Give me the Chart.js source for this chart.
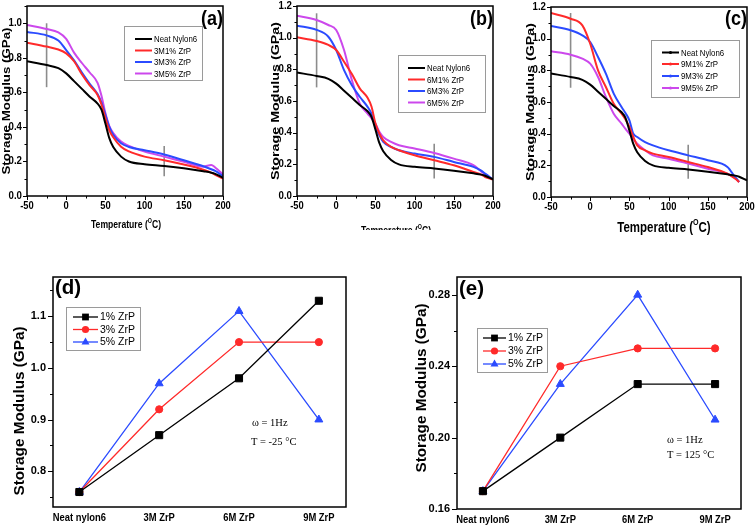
<!DOCTYPE html>
<html><head><meta charset="utf-8">
<script src="https://cdn.jsdelivr.net/npm/chart.js@4/dist/chart.umd.min.js"></script>
<style>
html,body{margin:0;padding:0;background:#fff;}
#wrap{position:relative;width:756px;height:529px;overflow:hidden;background:#fff;}
canvas{position:absolute;left:0;top:0;}
</style></head><body><div id="wrap">
<canvas id="pa" width="756" height="529"></canvas>
<canvas id="pb" width="756" height="529"></canvas>
<canvas id="pc" width="756" height="529"></canvas>
<canvas id="pd" width="756" height="529"></canvas>
<canvas id="pe" width="756" height="529"></canvas>
</div>
<script>
// ---------------- DATA ----------------
const temps = [-50,-25,-10,0,10,20,30,40,45,50,55,60,70,80,100,125,150,175,185,190,200];
const neatNylon6 = [0.78,0.758,0.74,0.71,0.665,0.62,0.575,0.535,0.50,0.42,0.335,0.283,0.228,0.20,0.184,0.174,0.16,0.143,0.135,0.128,0.105];
// panel (a)
const namesA = ['Neat Nylon6','3M1% ZrP','3M3% ZrP','3M5% ZrP'];
const a3M1 = [0.888,0.865,0.848,0.826,0.78,0.705,0.64,0.585,0.53,0.45,0.38,0.34,0.285,0.258,0.228,0.207,0.182,0.152,0.135,0.123,0.10];
const a3M3 = [0.95,0.93,0.90,0.845,0.785,0.715,0.65,0.59,0.54,0.47,0.40,0.355,0.305,0.284,0.265,0.24,0.207,0.172,0.155,0.145,0.115];
const a3M5 = [0.99,0.967,0.948,0.91,0.83,0.77,0.715,0.655,0.58,0.48,0.405,0.365,0.315,0.29,0.257,0.228,0.198,0.17,0.18,0.165,0.125];
// panel (b)
const namesB = ['Neat Nylon6','6M1% ZrP','6M3% ZrP','6M5% ZrP'];
const b6M1 = [1.002,0.979,0.954,0.922,0.848,0.77,0.68,0.62,0.565,0.46,0.395,0.352,0.31,0.289,0.257,0.226,0.194,0.152,0.135,0.12,0.105];
const b6M3 = [1.076,1.049,1.006,0.922,0.795,0.70,0.627,0.563,0.52,0.437,0.384,0.342,0.31,0.289,0.268,0.247,0.215,0.184,0.16,0.141,0.105];
const b6M5 = [1.139,1.112,1.08,1.049,0.922,0.732,0.584,0.521,0.49,0.458,0.405,0.373,0.342,0.321,0.30,0.272,0.236,0.195,0.155,0.135,0.105];
// panel (c)
const namesC = ['Neat Nylon6','9M1% ZrP','9M3% ZrP','9M5% ZrP'];
const c9M1 = [1.162,1.126,1.084,0.968,0.80,0.695,0.589,0.526,0.49,0.442,0.379,0.326,0.295,0.274,0.253,0.221,0.189,0.147,0.115,0.095,null];
const c9M3 = [1.08,1.053,1.021,0.979,0.884,0.779,0.653,0.568,0.53,0.484,0.40,0.379,0.347,0.326,0.295,0.263,0.232,0.19,0.125,0.095,null];
const c9M5 = [0.92,0.899,0.874,0.842,0.758,0.632,0.526,0.463,0.43,0.40,0.365,0.337,0.295,0.263,0.242,0.211,0.179,0.147,0.12,0.095,null];
// reference temperatures (grey markers) and their vertical extents
const refTemps = [-25, 125];
const refA = [[0.63,1.0],[0.115,0.29]];
const refB = [[0.686,1.154],[0.11,0.33]];
const refC = [[0.69,1.162],[0.116,0.33]];
// panels (d) and (e)
const groups = ['Neat nylon6','3M ZrP','6M ZrP','9M ZrP'];
const zrpNames = ['1% ZrP','3% ZrP','5% ZrP'];
const d1 = [0.76,0.87,0.98,1.13];
const d3 = [0.76,0.92,1.05,1.05];
const d5 = [0.76,0.97,1.11,0.90];
const e1 = [0.17,0.20,0.23,0.23];
const e3 = [0.17,0.24,0.25,0.25];
const e5 = [0.17,0.23,0.28,0.21];
const tempTicks = [-50,-25,0,25,50,75,100,125,150,175,200];

// ---------------- STYLE ----------------
const SANS = "'Liberation Sans', Arial, sans-serif";
const SERIF = "'Liberation Serif', 'Times New Roman', serif";
const BLACK = '#000000', RED = '#ff2a2a', BLUE = '#2b4bff', PURPLE = '#cc48ec', GREY = '#8c8c8c';
const topColors = [BLACK, RED, BLUE, PURPLE];

// draw text horizontally squeezed by factor k
function txt(ctx, s, x, y, k) {
  ctx.save(); ctx.translate(x, y); ctx.scale(k, 1); ctx.fillText(s, 0, 0); ctx.restore();
}

const deco = {
  id: 'deco',
  afterDraw(chart, _args, o) {
    const ctx = chart.ctx, A = chart.chartArea, xs = chart.scales.x, ys = chart.scales.y;
    const k = o.k;
    ctx.save();
    ctx.strokeStyle = '#000'; ctx.fillStyle = '#000';
    // tick marks
    ctx.lineWidth = o.tickW;
    ctx.beginPath();
    if (o.xTicks) for (const t of xs.ticks) {
      const p = Math.round(xs.getPixelForValue(t.value)) + 0.5;
      const L = o.xLabel(t.value) ? o.majorLen : o.minorLen;
      ctx.moveTo(p, A.bottom); ctx.lineTo(p, A.bottom + L);
    }
    for (const t of ys.ticks) {
      const p = Math.round(ys.getPixelForValue(t.value)) + 0.5;
      const L = o.yLabel(t.value) ? o.majorLen : o.minorLen;
      ctx.moveTo(A.left, p); ctx.lineTo(A.left - L, p);
    }
    ctx.stroke();
    // frame
    ctx.lineWidth = o.frameW;
    ctx.strokeRect(A.left, A.top, A.right - A.left, A.bottom - A.top);

    // tick labels
    ctx.font = 'bold ' + o.xTickSize + 'px ' + SANS;
    ctx.textAlign = 'center'; ctx.textBaseline = 'top';
    for (const t of xs.ticks) { const s = o.xLabel(t.value); if (s) txt(ctx, s, xs.getPixelForValue(t.value), A.bottom + o.xPad, o.xk); }
    ctx.font = 'bold ' + o.yTickSize + 'px ' + SANS;
    ctx.textAlign = 'right'; ctx.textBaseline = 'middle';
    for (const t of ys.ticks) { const s = o.yLabel(t.value); if (s) txt(ctx, s, A.left - o.yPad, ys.getPixelForValue(t.value), o.yk); }

    // y title
    if (o.yTitle) {
      ctx.save();
      ctx.translate(o.yTitle.x, o.yTitle.y);
      ctx.scale(k, 1);
      ctx.rotate(-Math.PI / 2);
      ctx.font = 'bold ' + o.yTitle.size + 'px ' + SANS;
      ctx.textAlign = 'center'; ctx.textBaseline = 'middle';
      ctx.fillText(o.yTitle.text, 0, 0);
      ctx.restore();
    }
    // x title with superscript
    if (o.xTitle) {
      ctx.save();
      if (o.clipY) { ctx.beginPath(); ctx.rect(0, 0, 756, o.clipY); ctx.clip(); }
      const s = o.xTitle.size, f = 'bold ' + s + 'px ' + SANS, fs = 'bold ' + (s * 0.62).toFixed(1) + 'px ' + SANS;
      const [p1, sup, p2] = o.xTitle.parts;
      ctx.font = f; const w1 = ctx.measureText(p1).width * k, w3 = ctx.measureText(p2).width * k;
      ctx.font = fs; const w2 = ctx.measureText(sup).width * k;
      let x = o.xTitle.x - (w1 + w2 + w3) / 2;
      ctx.textBaseline = 'middle'; ctx.textAlign = 'left';
      ctx.font = f; txt(ctx, p1, x, o.xTitle.y, k); x += w1;
      ctx.font = fs; txt(ctx, sup, x, o.xTitle.y - s * 0.38, k); x += w2;
      ctx.font = f; txt(ctx, p2, x, o.xTitle.y, k);
      ctx.restore();
    }
    // panel label
    if (o.tag) {
      ctx.font = 'bold ' + o.tag.size + 'px ' + SANS;
      ctx.textAlign = o.tag.align; ctx.textBaseline = 'alphabetic';
      txt(ctx, o.tag.text, o.tag.x, o.tag.y, o.tag.k);
    }
    // legend
    if (o.legend) {
      const L = o.legend;
      ctx.lineWidth = 1; ctx.strokeStyle = '#9a9a9a';
      ctx.strokeRect(L.x + 0.5, L.y + 0.5, L.w, L.h);
      ctx.font = L.font; ctx.textAlign = 'left'; ctx.textBaseline = 'middle';
      L.items.forEach((it, i) => {
        const y = L.rows[i];
        ctx.strokeStyle = it.color; ctx.lineWidth = L.lw;
        ctx.beginPath(); ctx.moveTo(L.x1, y); ctx.lineTo(L.x2, y); ctx.stroke();
        if (it.marker) drawMarker(ctx, it.marker, (L.x1 + L.x2) / 2, y, it.color, L.mr);
        ctx.fillStyle = '#000';
        txt(ctx, it.label, L.tx, y + 0.5, L.k);
      });
    }
    // notes
    if (o.notes) {
      ctx.fillStyle = '#000'; ctx.textAlign = 'left'; ctx.textBaseline = 'middle';
      o.notes.forEach(n => { ctx.font = n.font; ctx.fillText(n.text, n.x, n.y); });
    }
    ctx.restore();
  }
};

function drawMarker(ctx, kind, x, y, color, r) {
  ctx.save();
  ctx.fillStyle = color; ctx.strokeStyle = color; ctx.lineWidth = 1;
  ctx.beginPath();
  if (kind === 'rect') { const s = r * 0.85; ctx.rect(x - s, y - s, 2 * s, 2 * s); }
  else if (kind === 'circle') { ctx.arc(x, y, r * 0.9, 0, Math.PI * 2); }
  else if (kind === 'triangle') { ctx.moveTo(x, y - r * 1.1); ctx.lineTo(x + r, y + r * 0.65); ctx.lineTo(x - r, y + r * 0.65); ctx.closePath(); }
  else if (kind === 'dot') { ctx.arc(x, y, 1.6, 0, Math.PI * 2); }
  ctx.fill();
  ctx.restore();
}

function pad(area, yW, xH) {
  return { left: area.l - yW, top: area.t, right: 756 - area.r, bottom: 529 - area.b - xH };
}

const hiddenAxis = { grid: { display: false, drawTicks: false }, border: { display: false }, ticks: { display: false } };

function topPanel(id, names, series, refs, spec) {
  const ds = series.map((vals, k) => ({
    label: names[k],
    data: temps.map((t, i) => ({ x: t, y: vals[i] })),
    borderColor: topColors[k], borderWidth: 2, pointRadius: 0,
    cubicInterpolationMode: 'monotone', fill: false
  }));
  refTemps.forEach((t, i) => ds.push({
    label: 'ref' + t,
    data: [{ x: t, y: refs[i][0] }, { x: t, y: refs[i][1] }],
    borderColor: GREY, borderWidth: 1.6, pointRadius: 0, fill: false
  }));
  const yW = Math.min(spec.area.l, 30), xH = 24;
  const yVals = []; for (let i = 0; i <= Math.round(spec.ymax * 10); i++) yVals.push(i / 10);
  const K = 0.82;
  return new Chart(document.getElementById(id), {
    type: 'line',
    data: { datasets: ds },
    options: {
      responsive: false, animation: false, events: [],
      layout: { padding: pad(spec.area, yW, xH) },
      plugins: {
        legend: { display: false }, tooltip: { enabled: false },
        deco: {
          k: K, xk: 0.92, yk: 0.95, tickW: 1, majorLen: 4, minorLen: 2.5, frameW: 1.5, xTicks: true,
          xTickSize: 10.2, yTickSize: 10.2, xPad: 5, yPad: 5,
          xLabel: v => (v % 50 === 0 ? String(v) : ''),
          yLabel: v => (Math.round(v * 10) % 2 === 0 ? v.toFixed(1) : ''),
          yTitle: { text: 'Storage Modulus (GPa)', x: spec.yTitleX, y: (spec.area.t + spec.area.b) / 2, size: spec.yTitleSize },
          xTitle: { parts: ['Temperature (', 'O', 'C)'], x: spec.xTitleX, y: spec.xTitleY, size: spec.xTitleSize },
          clipY: spec.clipY,
          tag: { text: spec.tag, x: spec.area.r, y: spec.tagY, size: 20, align: 'right', k: 0.9 },
          legend: Object.assign({}, spec.legend, {
            font: '9.8px ' + SANS, lw: 2, mr: 2, k: 0.8,
            items: names.map((n, k) => ({ label: n, color: topColors[k], marker: spec.legendDots ? 'dot' : null }))
          })
        }
      },
      scales: {
        x: Object.assign({ type: 'linear', min: -50, max: 200,
          afterFit: s => { s.height = xH; },
          afterBuildTicks: s => { s.ticks = tempTicks.map(v => ({ value: v })); } }, hiddenAxis),
        y: Object.assign({ type: 'linear', min: 0, max: spec.ymax,
          afterFit: s => { s.width = yW; },
          afterBuildTicks: s => { s.ticks = yVals.map(v => ({ value: v })); } }, hiddenAxis)
      }
    },
    plugins: [deco]
  });
}

function bottomPanel(id, series, spec) {
  const cols = [BLACK, RED, BLUE], styles = ['rect', 'circle', 'triangle'], radii = [5, 3.6, 4.6];
  const ds = series.map((vals, k) => ({
    label: zrpNames[k],
    data: vals.map((v, i) => ({ x: i, y: v })),
    borderColor: cols[k], backgroundColor: cols[k], borderWidth: 1.3,
    pointStyle: styles[k], pointRadius: radii[k], pointBorderWidth: 1, tension: 0, fill: false
  }));
  const yW = 30, xH = 24;
  return new Chart(document.getElementById(id), {
    type: 'line',
    data: { datasets: ds },
    options: {
      responsive: false, animation: false, events: [],
      layout: { padding: pad(spec.area, yW, xH) },
      plugins: {
        legend: { display: false }, tooltip: { enabled: false },
        deco: {
          k: 0.95, xk: 0.84, yk: 1, tickW: 1.2, majorLen: 5, minorLen: 3, frameW: 1.5, xTicks: false,
          xTickSize: 11.2, yTickSize: 11, xPad: 5, yPad: 7,
          xLabel: v => groups[v], yLabel: spec.yLabel,
          yTitle: { text: 'Storage Modulus (GPa)', x: spec.yTitleX, y: spec.yTitleY, size: 15.3 },
          tag: { text: spec.tag, x: spec.area.l + 2, y: spec.tagY, size: 20.5, align: 'left', k: 1 },
          legend: Object.assign({}, spec.legend, {
            font: '10.5px ' + SANS, lw: 1.3, mr: 4, k: 1,
            items: zrpNames.map((n, k) => ({ label: n, color: cols[k], marker: styles[k] }))
          }),
          notes: spec.notes
        }
      },
      scales: {
        x: Object.assign({ type: 'linear', min: spec.xmin, max: spec.xmax,
          afterFit: s => { s.height = xH; },
          afterBuildTicks: s => { s.ticks = groups.map((g, i) => ({ value: i })); } }, hiddenAxis),
        y: Object.assign({ type: 'linear', min: spec.ymin, max: spec.ymax,
          afterFit: s => { s.width = yW; },
          afterBuildTicks: s => { s.ticks = spec.yTicks.map(v => ({ value: v })); } }, hiddenAxis)
      }
    },
    plugins: [deco]
  });
}

topPanel('pa', namesA, [neatNylon6, a3M1, a3M3, a3M5], refA, {
  area: { l: 27, t: 6, r: 223, b: 196 }, ymax: 1.1, tag: '(a)', tagY: 25,
  yTitleX: 6.5, yTitleSize: 13.3, xTitleX: 126, xTitleY: 225, xTitleSize: 10.5, clipY: 230,
  legend: { x: 124, y: 26, w: 78, h: 54, rows: [39, 50.5, 62, 73.5], x1: 135, x2: 152, tx: 154 }
});
topPanel('pb', namesB, [neatNylon6, b6M1, b6M3, b6M5], refB, {
  area: { l: 297, t: 6, r: 493, b: 196 }, ymax: 1.2, tag: '(b)', tagY: 25,
  yTitleX: 276, yTitleSize: 14.3, xTitleX: 396, xTitleY: 231.5, xTitleSize: 10.5, clipY: 230,
  legend: { x: 398, y: 55, w: 87, h: 57, rows: [68, 79.5, 91, 102.5], x1: 408, x2: 425, tx: 427 }
});
topPanel('pc', namesC, [neatNylon6, c9M1, c9M3, c9M5], refC, {
  area: { l: 551, t: 7, r: 747, b: 197 }, ymax: 1.2, tag: '(c)', tagY: 25,
  yTitleX: 530.5, yTitleSize: 14.3, xTitleX: 664, xTitleY: 228, xTitleSize: 14, clipY: null, legendDots: true,
  legend: { x: 651, y: 40, w: 88, h: 57, rows: [52.5, 64, 76, 88], x1: 662, x2: 679, tx: 681 }
});
bottomPanel('pd', [d1, d3, d5], {
  area: { l: 53, t: 277, r: 346, b: 507 }, xmin: -0.33, xmax: 3.34, ymin: 0.731, ymax: 1.176,
  yTicks: [0.75, 0.8, 0.85, 0.9, 0.95, 1.0, 1.05, 1.1, 1.15],
  yLabel: v => (Math.round(v * 100) % 10 === 0 ? v.toFixed(1) : ''),
  tag: '(d)', tagY: 294, yTitleX: 20, yTitleY: 411,
  legend: { x: 66, y: 307, w: 74, h: 43, rows: [317, 329.5, 342], x1: 73, x2: 98, tx: 100 },
  notes: [{ text: 'ω = 1Hz', x: 252, y: 423, font: '10.5px ' + SERIF }, { text: 'T = -25 °C', x: 251, y: 442, font: '10.5px ' + SERIF }]
});
bottomPanel('pe', [e1, e3, e5], {
  area: { l: 457, t: 277, r: 741, b: 509 }, xmin: -0.335, xmax: 3.335, ymin: 0.16, ymax: 0.29,
  yTicks: [0.16, 0.18, 0.2, 0.22, 0.24, 0.26, 0.28],
  yLabel: v => (Math.round(v * 100) % 4 === 0 ? v.toFixed(2) : ''),
  tag: '(e)', tagY: 295, yTitleX: 422, yTitleY: 388,
  legend: { x: 477, y: 328, w: 70, h: 44, rows: [338, 351, 364], x1: 483, x2: 506, tx: 508 },
  notes: [{ text: 'ω = 1Hz', x: 667, y: 440, font: '10.5px ' + SERIF }, { text: 'T = 125 °C', x: 667, y: 455, font: '10.5px ' + SERIF }]
});
</script>
</body></html>
